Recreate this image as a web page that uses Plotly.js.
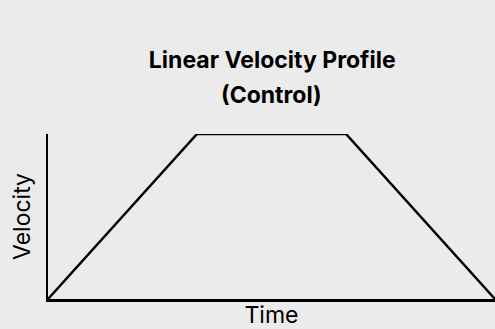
<!DOCTYPE html>
<html><head><meta charset="utf-8">
<script src="https://cdn.plot.ly/plotly-3.0.1.min.js"></script>
<style>html,body{margin:0;padding:0;background:#ebebeb;}</style>
</head><body><div id="chart" style="width:495px;height:329px;"></div>
<script>
const time = [0, 1, 2, 3];
const velocity = [0, 1, 1, 0];
const titleLines = ['Linear Velocity Profile', '(Control)'];
const trace = {x: time, y: velocity, mode: 'lines', line: {color: '#000', width: 2.5}, cliponaxis: false, hoverinfo: 'skip'};
const layout = {
  width: 495, height: 329,
  paper_bgcolor: '#ebebeb', plot_bgcolor: '#ebebeb',
  margin: {l: 48, r: 0, t: 134, b: 30},
  font: {family: 'Inter, sans-serif', color: '#000'},
  title: {text: '<b>' + titleLines[0] + '</b>', x: 0.55, xanchor: 'center', y: 1 - 60/329, yanchor: 'middle', font: {size: 23, color: '#000'}},
  annotations: [{text: '<b>' + titleLines[1] + '</b>', xref: 'paper', yref: 'paper', x: 0.5, y: (299-95)/165, yanchor: 'middle', xanchor: 'center', showarrow: false, font: {size: 23, color: '#000'}}],
  xaxis: {range: [0, 3], showgrid: false, zeroline: false, showticklabels: false, ticks: '', showline: true, linecolor: '#000', linewidth: 2.5,
    title: {text: 'Time', font: {size: 23}, standoff: 7}},
  yaxis: {range: [0, 1], showgrid: false, zeroline: false, showticklabels: false, ticks: '', showline: true, linecolor: '#000', linewidth: 2.5,
    title: {text: 'Velocity', font: {size: 23}, standoff: 9}},
  showlegend: false
};
Plotly.newPlot('chart', [trace], layout, {displayModeBar: false, staticPlot: true});
</script></body></html>
